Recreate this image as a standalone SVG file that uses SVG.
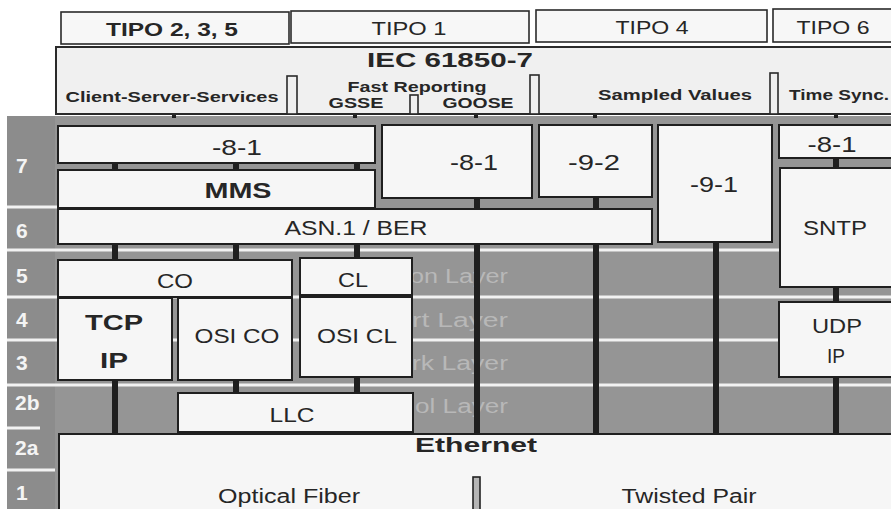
<svg xmlns="http://www.w3.org/2000/svg" width="891" height="509" viewBox="0 0 891 509">
<style>
.box{fill:#f6f6f6;stroke:#1f1f1f;stroke-width:2}
.hdr{fill:#f7f7f7;stroke:#2a2a2a;stroke-width:1.6}
.div{fill:#efefef;stroke:#2a2a2a;stroke-width:1.6}
text{font-family:"Liberation Sans",Arial,sans-serif;fill:#262626;text-anchor:middle}
.b{font-weight:bold}
.lbl{fill:#f4f4f4;font-weight:bold;font-size:21px;text-anchor:start}
.fade{fill:#b8b8b8;font-size:20px;text-anchor:start}
.sep{stroke:#f2f2f2;stroke-width:3}
#connectors line{stroke:#1f1f1f;stroke-width:6}
#connectors line.s{stroke-width:4}
</style>
<rect width="891" height="509" fill="#ffffff"/>
<!-- gray layer band -->
<rect x="7" y="116" width="884" height="393" fill="#959595"/>
<rect x="7" y="116" width="48" height="393" fill="#8c8c8c"/>
<g id="separators">
<line class="sep" x1="7" y1="207" x2="57" y2="207"/>
<line class="sep" x1="7" y1="250" x2="891" y2="250"/>
<line class="sep" x1="7" y1="297" x2="891" y2="297"/>
<line class="sep" x1="7" y1="340" x2="891" y2="340"/>
<line class="sep" x1="7" y1="385" x2="891" y2="385"/>
<line class="sep" x1="7" y1="428" x2="40" y2="428"/>
<line class="sep" x1="7" y1="470" x2="55" y2="470"/>
</g>
<g id="layer-labels">
<text class="lbl" x="16" y="173">7</text>
<text class="lbl" x="16" y="238">6</text>
<text class="lbl" x="16" y="283">5</text>
<text class="lbl" x="16" y="327">4</text>
<text class="lbl" x="16" y="370">3</text>
<text class="lbl" x="15" y="410">2b</text>
<text class="lbl" x="15" y="455">2a</text>
<text class="lbl" x="16" y="500">1</text>
</g>
<g id="faded-layer-names">
<text class="fade" x="410" y="283" textLength="98" lengthAdjust="spacingAndGlyphs">on Layer</text>
<text class="fade" x="412" y="327" textLength="96" lengthAdjust="spacingAndGlyphs">rt Layer</text>
<text class="fade" x="412" y="370" textLength="96" lengthAdjust="spacingAndGlyphs">rk Layer</text>
<text class="fade" x="415" y="413" textLength="93" lengthAdjust="spacingAndGlyphs">ol Layer</text>
</g>
<g id="connectors">
<line class="s" x1="174" y1="112" x2="174" y2="118"/>
<line class="s" x1="355" y1="112" x2="355" y2="118"/>
<line class="s" x1="476" y1="112" x2="476" y2="118"/>
<line class="s" x1="595" y1="112" x2="595" y2="118"/>
<line class="s" x1="836" y1="112" x2="836" y2="118"/>
<line x1="115" y1="163" x2="115" y2="170"/>
<line x1="236" y1="163" x2="236" y2="170"/>
<line x1="357" y1="163" x2="357" y2="170"/>
<line x1="115" y1="244" x2="115" y2="260"/>
<line x1="236" y1="244" x2="236" y2="260"/>
<line x1="357" y1="244" x2="357" y2="258"/>
<line x1="477" y1="197" x2="477" y2="209"/>
<line x1="477" y1="244" x2="477" y2="434"/>
<line x1="596" y1="196" x2="596" y2="209"/>
<line x1="596" y1="244" x2="596" y2="434"/>
<line x1="716" y1="242" x2="716" y2="434"/>
<line x1="836" y1="158" x2="836" y2="168"/>
<line x1="836" y1="287" x2="836" y2="302"/>
<line x1="836" y1="377" x2="836" y2="434"/>
<line x1="115" y1="380" x2="115" y2="434"/>
<line x1="236" y1="380" x2="236" y2="393"/>
<line x1="357" y1="377" x2="357" y2="393"/>
<line x1="236" y1="432" x2="236" y2="434"/>
<line x1="357" y1="432" x2="357" y2="434"/>
</g>
<!-- header -->
<g id="tipo235"><rect class="hdr" x="61" y="12" width="228" height="32"/><text class="b" x="172" y="36" font-size="18" textLength="132" lengthAdjust="spacingAndGlyphs">TIPO 2, 3, 5</text></g>
<g id="tipo1"><rect class="hdr" x="291" y="11" width="238" height="32"/><text x="409" y="35" font-size="19" textLength="75" lengthAdjust="spacingAndGlyphs">TIPO 1</text></g>
<g id="tipo4"><rect class="hdr" x="536" y="10" width="231" height="32"/><text x="652" y="34" font-size="19" textLength="73" lengthAdjust="spacingAndGlyphs">TIPO 4</text></g>
<g id="tipo6"><rect class="hdr" x="773" y="9" width="122" height="33"/><text x="833" y="34" font-size="19" textLength="73" lengthAdjust="spacingAndGlyphs">TIPO 6</text></g>
<g id="iec61850-7">
<rect x="56" y="47" width="840" height="67" fill="#f0f0f0" stroke="#2a2a2a" stroke-width="2"/>
<rect class="div" x="287" y="76" width="10" height="38"/>
<rect class="div" x="410" y="95" width="8" height="19"/>
<rect class="div" x="530" y="75" width="9" height="39"/>
<rect class="div" x="770" y="73" width="8" height="41"/>
<text class="b" x="450" y="67" font-size="21" textLength="166" lengthAdjust="spacingAndGlyphs">IEC 61850-7</text>
<text class="b" x="172" y="102" font-size="15" textLength="213" lengthAdjust="spacingAndGlyphs">Client-Server-Services</text>
<text class="b" x="417" y="92" font-size="15" textLength="139" lengthAdjust="spacingAndGlyphs">Fast Reporting</text>
<text class="b" x="356" y="108" font-size="15" textLength="55" lengthAdjust="spacingAndGlyphs">GSSE</text>
<text class="b" x="478" y="108" font-size="15" textLength="71" lengthAdjust="spacingAndGlyphs">GOOSE</text>
<text class="b" x="675" y="100" font-size="15" textLength="154" lengthAdjust="spacingAndGlyphs">Sampled Values</text>
<text class="b" x="839" y="100" font-size="15" textLength="100" lengthAdjust="spacingAndGlyphs">Time Sync.</text>
</g>
<!-- layer 7/6 -->
<g id="p81-left"><rect class="box" x="58" y="126" width="317" height="37"/><text x="237" y="155" font-size="22" textLength="50" lengthAdjust="spacingAndGlyphs">-8-1</text></g>
<g id="mms"><rect class="box" x="58" y="170" width="317" height="38"/><text class="b" x="238" y="198" font-size="22" textLength="67" lengthAdjust="spacingAndGlyphs">MMS</text></g>
<g id="asn1"><rect class="box" x="58" y="209" width="594" height="35"/><text x="356" y="235" font-size="20" textLength="143" lengthAdjust="spacingAndGlyphs">ASN.1 / BER</text></g>
<g id="p81-mid"><rect class="box" x="382" y="125" width="150" height="73"/><text x="474" y="170" font-size="22" textLength="48" lengthAdjust="spacingAndGlyphs">-8-1</text></g>
<g id="p92"><rect class="box" x="539" y="125" width="113" height="72"/><text x="594" y="170" font-size="22" textLength="52" lengthAdjust="spacingAndGlyphs">-9-2</text></g>
<g id="p91"><rect class="box" x="658" y="125" width="114" height="117"/><text x="714" y="192" font-size="22" textLength="48" lengthAdjust="spacingAndGlyphs">-9-1</text></g>
<g id="p81-right"><rect class="box" x="779" y="125" width="116" height="33"/><text x="832" y="152" font-size="22" textLength="49" lengthAdjust="spacingAndGlyphs">-8-1</text></g>
<g id="sntp"><rect class="box" x="780" y="168" width="115" height="119"/><text x="835" y="235" font-size="20" textLength="64" lengthAdjust="spacingAndGlyphs">SNTP</text></g>
<!-- layers 5-3 -->
<g id="co"><rect class="box" x="58" y="260" width="234" height="37"/><text x="175" y="288" font-size="20" textLength="36" lengthAdjust="spacingAndGlyphs">CO</text></g>
<g id="tcpip"><rect class="box" x="58" y="298" width="114" height="82"/><text class="b" x="114" y="330" font-size="22" textLength="58" lengthAdjust="spacingAndGlyphs">TCP</text><text class="b" x="114" y="368" font-size="22" textLength="28" lengthAdjust="spacingAndGlyphs">IP</text></g>
<g id="osico"><rect class="box" x="178" y="298" width="114" height="82"/><text x="237" y="343" font-size="20" textLength="85" lengthAdjust="spacingAndGlyphs">OSI CO</text></g>
<g id="cl"><rect class="box" x="300" y="258" width="112" height="37"/><text x="353" y="287" font-size="20" textLength="30" lengthAdjust="spacingAndGlyphs">CL</text></g>
<g id="osicl"><rect class="box" x="300" y="297" width="112" height="80"/><text x="357" y="343" font-size="20" textLength="80" lengthAdjust="spacingAndGlyphs">OSI CL</text></g>
<g id="udpip"><rect class="box" x="779" y="302" width="116" height="75"/><text x="837" y="333" font-size="20" textLength="50" lengthAdjust="spacingAndGlyphs">UDP</text><text x="836" y="363" font-size="20" textLength="18" lengthAdjust="spacingAndGlyphs">IP</text></g>
<!-- layer 2 / 1 -->
<g id="llc"><rect class="box" x="178" y="393" width="235" height="39"/><text x="292" y="422" font-size="20" textLength="45" lengthAdjust="spacingAndGlyphs">LLC</text></g>
<g id="ethernet">
<rect class="box" x="59" y="434" width="840" height="80"/>
<text class="b" x="476" y="452" font-size="21" textLength="122" lengthAdjust="spacingAndGlyphs">Ethernet</text>
<rect x="473" y="477" width="7" height="36" fill="#b5b5b5" stroke="#222" stroke-width="1.6"/>
<text x="289" y="503" font-size="20" textLength="142" lengthAdjust="spacingAndGlyphs">Optical Fiber</text>
<text x="689" y="503" font-size="20" textLength="135" lengthAdjust="spacingAndGlyphs">Twisted Pair</text>
</g>
</svg>
